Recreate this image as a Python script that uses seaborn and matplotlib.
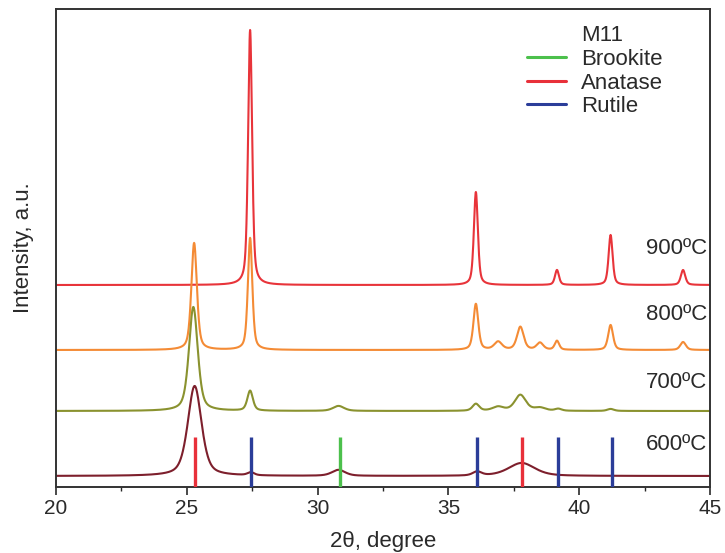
import numpy as np
import pandas as pd
import matplotlib
matplotlib.use("Agg")
import matplotlib.pyplot as plt
from matplotlib.lines import Line2D
from matplotlib.ticker import MultipleLocator
import seaborn as sns

# Temperatures and their stacked baselines (a.u.)
temperatures = ["600ºC", "700ºC", "800ºC", "900ºC"]
baselines = [11, 76, 137, 202]

# Peak tables per pattern: centre (2θ), height (a.u.), FWHM (degree)
peaks_600 = [(25.30, 90, 0.62), (27.45, 3, 0.30), (30.80, 6, 0.60),
             (36.10, 4, 0.40), (37.80, 13, 1.20)]
peaks_700 = [(25.25, 104, 0.40), (27.42, 20, 0.25), (30.80, 5, 0.50),
             (36.05, 7, 0.30), (36.90, 4, 0.50), (37.75, 16, 0.50),
             (38.50, 3, 0.50), (39.20, 2, 0.30), (41.20, 2, 0.30)]
peaks_800 = [(25.28, 107, 0.25), (27.42, 112, 0.20), (36.05, 46, 0.22),
             (36.90, 8, 0.35), (37.75, 23, 0.30), (38.50, 7, 0.30),
             (39.15, 9, 0.20), (41.20, 25, 0.22), (43.97, 8, 0.25)]
peaks_900 = [(27.42, 255, 0.18), (36.05, 93, 0.18), (39.15, 15, 0.18),
             (41.20, 50, 0.18), (43.97, 15, 0.20)]
peak_tables = [peaks_600, peaks_700, peaks_800, peaks_900]
curve_colors = ["#7d1f2c", "#8a922f", "#f48b35", "#e8343a"]

# Reference phase positions (2θ)
brookite_pos = [30.85]
anatase_pos = [25.30, 37.80]
rutile_pos = [27.45, 36.10, 39.20, 41.25]
stick_top = 50
phase_colors = {"Brookite": "#4cc04c", "Anatase": "#e8303a", "Rutile": "#2b3d99"}


def profile(x, table, base):
    """Pseudo-Voigt sum for a peak table on a flat baseline."""
    y = np.full_like(x, base, dtype=float)
    for c, h, w in table:
        g = np.exp(-4 * np.log(2) * ((x - c) / w) ** 2)
        l = 1.0 / (1.0 + 4 * ((x - c) / w) ** 2)
        y += h * (0.5 * g + 0.5 * l)
    return y


two_theta = np.linspace(20, 45, 2501)
frames = []
for t, tbl, b in zip(temperatures, peak_tables, baselines):
    frames.append(pd.DataFrame({"two_theta": two_theta,
                                "intensity": profile(two_theta, tbl, b),
                                "sample": t}))
data = pd.concat(frames, ignore_index=True)

sns.set_theme(style="ticks")
plt.rcParams["font.family"] = ["Liberation Sans", "DejaVu Sans"]
text_color = "#2a2a2a"

fig = plt.figure(figsize=(7.25, 5.53), dpi=100)
ax = fig.add_axes([56 / 725, 66 / 553, 654 / 725, 478 / 553])

# Upper patterns first so the lower ones sit on top where they cross
for t, col in reversed(list(zip(temperatures, curve_colors))):
    sns.lineplot(data=data[data["sample"] == t], x="two_theta", y="intensity",
                 color=col, lw=1.5, ax=ax, legend=False)

# Reference sticks along the bottom
for name, pos in [("Brookite", brookite_pos), ("Anatase", anatase_pos),
                  ("Rutile", rutile_pos)]:
    ax.vlines(pos, 0, stick_top, color=phase_colors[name], lw=2.4, zorder=5)

# Temperature labels at the right end of each pattern
label_y = [42, 104, 173, 239]
for t, y in zip(temperatures, label_y):
    ax.text(44.9, y, t, ha="right", va="center", fontsize=16, color=text_color)

ax.set_xlim(20, 45)
ax.set_ylim(0, 478)
ax.xaxis.set_major_locator(MultipleLocator(5))
ax.xaxis.set_minor_locator(MultipleLocator(2.5))
ax.tick_params(axis="x", which="major", direction="out", length=6, width=1.2,
               labelsize=15, colors=text_color, pad=3)
ax.tick_params(axis="x", which="minor", direction="out", length=3, width=1.0)
ax.set_yticks([])
for s in ax.spines.values():
    s.set_linewidth(1.4)
    s.set_color("#333333")
ax.set_xlabel("2θ, degree", fontsize=16, color=text_color, labelpad=9)
ax.set_ylabel("Intensity, a.u.", fontsize=16, color=text_color, labelpad=16)

handles = [Line2D([], [], color="none")] + [
    Line2D([], [], color=phase_colors[n], lw=2.2) for n in ["Brookite", "Anatase", "Rutile"]]
labels = ["M11", "Brookite", "Anatase", "Rutile"]
ax.legend(handles, labels, loc="upper left", bbox_to_anchor=(0.72, 0.966),
          frameon=False, fontsize=16, handlelength=1.75, handletextpad=0.7,
          labelspacing=0.12, borderaxespad=0.0, borderpad=0.0,
          labelcolor=text_color)

fig.savefig("out.png", dpi=100)
